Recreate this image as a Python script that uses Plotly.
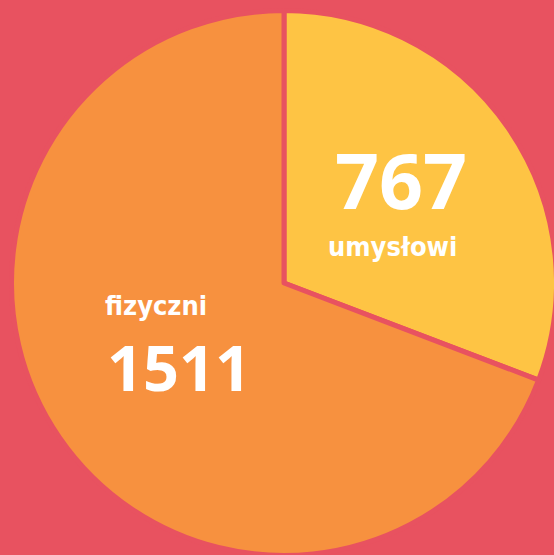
"""Pie chart: umysłowi vs fizyczni workers."""

import plotly.graph_objects as go

# Data
labels = ["umysłowi", "fizyczni"]
counts = [767, 1511]
# slice sizes as drawn in the picture (share of the circle, %)
shares = [30.8, 69.2]

# Colours
BG_PINK = "#E85260"
YELLOW = "#FEC444"
ORANGE = "#F7913F"

W, H = 560, 560

fig = go.Figure(
    go.Pie(
        labels=labels,
        values=shares,
        sort=False,
        direction="clockwise",
        rotation=0,
        marker=dict(colors=[YELLOW, ORANGE], line=dict(color=BG_PINK, width=5)),
        textinfo="none",
        hoverinfo="label",
        showlegend=False,
        domain=dict(x=[11.5 / W, 556.5 / W], y=[(H - 555.5) / H, (H - 10.5) / H]),
    )
)

num_font = dict(family="Open Sans", size=77, color="white", weight="bold")
lab_font = dict(family="DejaVu Sans Condensed, DejaVu Sans, sans-serif",
                size=27, color="white", weight="bold")

# upper-right slice: number above label
fig.add_annotation(x=401 / W, y=1 - 180 / H, text=str(counts[0]), font=num_font)
fig.add_annotation(x=392 / W, y=1 - 246.5 / H, text=labels[0], font=lab_font)
# left slice: label above number
fig.add_annotation(x=156 / W, y=1 - 306 / H, text=labels[1], font=lab_font)
fig.add_annotation(x=179 / W, y=1 - 366 / H, text=str(counts[1]),
                   font=dict(num_font, size=63))

fig.update_annotations(xref="paper", yref="paper", showarrow=False,
                       xanchor="center", yanchor="middle")

fig.update_layout(
    width=W,
    height=H,
    margin=dict(l=0, r=0, t=0, b=0),
    paper_bgcolor=BG_PINK,
    plot_bgcolor=BG_PINK,
)

fig.write_html(
    "out.html",
    config={"displayModeBar": False},
    post_script="document.body.style.margin = '0';",
)
